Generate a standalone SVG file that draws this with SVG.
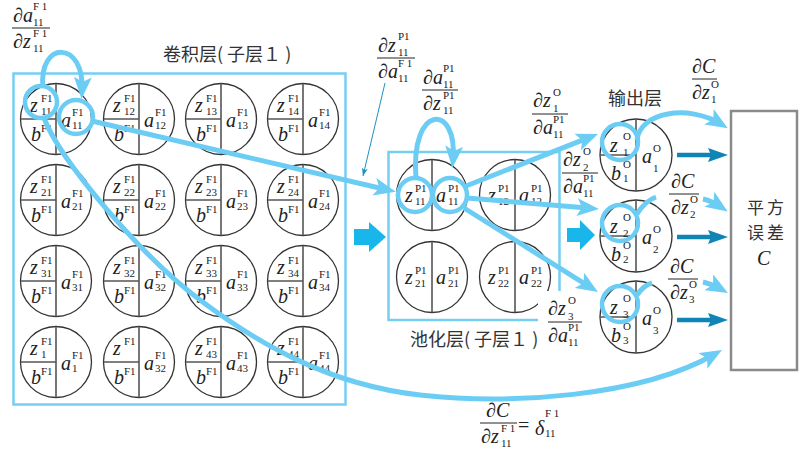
<svg xmlns="http://www.w3.org/2000/svg" width="808" height="452" viewBox="0 0 808 452">
<style>
.c{fill:#fff;stroke:#333;stroke-width:1.3}
.d{fill:none;stroke:#555;stroke-width:1.6}
.v{font-family:"Liberation Serif",serif;font-style:italic;font-size:20px;fill:#222}
.u{font-family:"Liberation Serif",serif;font-size:20px;fill:#222}
.s{font-family:"Liberation Serif",serif;font-size:11px;fill:#222}
.cn{font-family:"Noto Sans CJK SC",sans-serif;font-size:18px;fill:#333}
.hl{fill:none;stroke:#6ccdf4;stroke-width:4.5}
.k{fill:none;stroke:#6ccdf4;stroke-width:5}
.fl{stroke:#222;stroke-width:1}
.dk{fill:none;stroke:#0f85b6;stroke-width:4.5}
.blk{fill:#18b6ea}
</style>
<defs>
<g id="cc"><circle class="c" r="35.5"/><path class="d" d="M0,-35.5V35.5M-35.5,0H0"/></g>
<g id="pc"><circle class="c" r="35.5"/><path class="d" d="M0,-35.5V35.5"/></g>
<g id="oc"><circle class="c" r="36"/><path class="d" d="M0,-36V36M-36,0H0"/></g>
<marker id="ah" markerUnits="userSpaceOnUse" viewBox="0 0 22 18" markerWidth="22" markerHeight="18" refX="14" refY="9" orient="auto"><path d="M0,0 L22,9 L0,18 L5,9 Z" fill="#6ccdf4"/></marker>
<marker id="dh" markerUnits="userSpaceOnUse" viewBox="0 0 20 14" markerWidth="20" markerHeight="14" refX="12" refY="7" orient="auto"><path d="M0,0 L20,7 L0,14 L3,7 Z" fill="#0f85b6"/></marker>
<marker id="th" markerUnits="userSpaceOnUse" viewBox="0 0 8 6" markerWidth="8" markerHeight="6" refX="8" refY="3" orient="auto"><path d="M0,0 L8,3 L0,6 L2,3 Z" fill="#1e90c8"/></marker>
</defs>
<rect width="808" height="452" fill="#fff"/>

<g id="conv-layer">
<rect x="13.5" y="73.5" width="332" height="331" fill="none" stroke="#76cef2" stroke-width="2.5"/>
<text class="cn" x="163" y="61">卷积层( 子层１ )</text>
</g>
<g id="pool-layer">
<rect x="388.5" y="152" width="171" height="168" fill="none" stroke="#76cef2" stroke-width="2.5"/>
<text class="cn" x="410" y="346">池化层( 子层１ )</text>
</g>
<g id="output-title"><text class="cn" x="608" y="105">输出层</text></g>
<g id="error-box">
<rect x="731" y="111" width="66" height="259" fill="#fff" stroke="#8a8a8a" stroke-width="2.5"/>
<text class="cn" x="747" y="214" font-size="17" letter-spacing="3" style="font-size:17px">平方</text>
<text class="cn" x="747" y="239" font-size="17" letter-spacing="3" style="font-size:17px">误差</text>
<text class="v" x="757" y="265">C</text>
</g>

<g id="f11" transform="translate(56,119)"><use href="#cc"/><text class="v" x="-26" y="-7">z</text><text class="s" x="-15" y="-17">F1</text><text class="s" x="-15" y="-4">11</text><text class="v" x="-25" y="22">b</text><text class="s" x="-15" y="13">F1</text><text class="v" x="5" y="8">a</text><text class="s" x="16" y="-3">F1</text><text class="s" x="16" y="10">11</text></g>
<g id="f12" transform="translate(139,119)"><use href="#cc"/><text class="v" x="-26" y="-7">z</text><text class="s" x="-15" y="-17">F1</text><text class="s" x="-15" y="-4">12</text><text class="v" x="-25" y="22">b</text><text class="s" x="-15" y="13">F1</text><text class="v" x="5" y="8">a</text><text class="s" x="16" y="-3">F1</text><text class="s" x="16" y="10">12</text></g>
<g id="f13" transform="translate(221,119)"><use href="#cc"/><text class="v" x="-26" y="-7">z</text><text class="s" x="-15" y="-17">F1</text><text class="s" x="-15" y="-4">13</text><text class="v" x="-25" y="22">b</text><text class="s" x="-15" y="13">F1</text><text class="v" x="5" y="8">a</text><text class="s" x="16" y="-3">F1</text><text class="s" x="16" y="10">13</text></g>
<g id="f14" transform="translate(303,119)"><use href="#cc"/><text class="v" x="-26" y="-7">z</text><text class="s" x="-15" y="-17">F1</text><text class="s" x="-15" y="-4">14</text><text class="v" x="-25" y="22">b</text><text class="s" x="-15" y="13">F1</text><text class="v" x="5" y="8">a</text><text class="s" x="16" y="-3">F1</text><text class="s" x="16" y="10">14</text></g>

<g id="f21" transform="translate(56,200)"><use href="#cc"/><text class="v" x="-26" y="-7">z</text><text class="s" x="-15" y="-17">F1</text><text class="s" x="-15" y="-4">21</text><text class="v" x="-25" y="22">b</text><text class="s" x="-15" y="13">F1</text><text class="v" x="5" y="8">a</text><text class="s" x="16" y="-3">F1</text><text class="s" x="16" y="10">21</text></g>
<g id="f22" transform="translate(139,200)"><use href="#cc"/><text class="v" x="-26" y="-7">z</text><text class="s" x="-15" y="-17">F1</text><text class="s" x="-15" y="-4">22</text><text class="v" x="-25" y="22">b</text><text class="s" x="-15" y="13">F1</text><text class="v" x="5" y="8">a</text><text class="s" x="16" y="-3">F1</text><text class="s" x="16" y="10">22</text></g>
<g id="f23" transform="translate(221,200)"><use href="#cc"/><text class="v" x="-26" y="-7">z</text><text class="s" x="-15" y="-17">F1</text><text class="s" x="-15" y="-4">23</text><text class="v" x="-25" y="22">b</text><text class="s" x="-15" y="13">F1</text><text class="v" x="5" y="8">a</text><text class="s" x="16" y="-3">F1</text><text class="s" x="16" y="10">23</text></g>
<g id="f24" transform="translate(303,200)"><use href="#cc"/><text class="v" x="-26" y="-7">z</text><text class="s" x="-15" y="-17">F1</text><text class="s" x="-15" y="-4">24</text><text class="v" x="-25" y="22">b</text><text class="s" x="-15" y="13">F1</text><text class="v" x="5" y="8">a</text><text class="s" x="16" y="-3">F1</text><text class="s" x="16" y="10">24</text></g>

<g id="f31" transform="translate(56,281)"><use href="#cc"/><text class="v" x="-26" y="-7">z</text><text class="s" x="-15" y="-17">F1</text><text class="s" x="-15" y="-4">31</text><text class="v" x="-25" y="22">b</text><text class="s" x="-15" y="13">F1</text><text class="v" x="5" y="8">a</text><text class="s" x="16" y="-3">F1</text><text class="s" x="16" y="10">31</text></g>
<g id="f32" transform="translate(139,281)"><use href="#cc"/><text class="v" x="-26" y="-7">z</text><text class="s" x="-15" y="-17">F1</text><text class="s" x="-15" y="-4">32</text><text class="v" x="-25" y="22">b</text><text class="s" x="-15" y="13">F1</text><text class="v" x="5" y="8">a</text><text class="s" x="16" y="-3">F1</text><text class="s" x="16" y="10">32</text></g>
<g id="f33" transform="translate(221,281)"><use href="#cc"/><text class="v" x="-26" y="-7">z</text><text class="s" x="-15" y="-17">F1</text><text class="s" x="-15" y="-4">33</text><text class="v" x="-25" y="22">b</text><text class="s" x="-15" y="13">F1</text><text class="v" x="5" y="8">a</text><text class="s" x="16" y="-3">F1</text><text class="s" x="16" y="10">33</text></g>
<g id="f34" transform="translate(303,281)"><use href="#cc"/><text class="v" x="-26" y="-7">z</text><text class="s" x="-15" y="-17">F1</text><text class="s" x="-15" y="-4">34</text><text class="v" x="-25" y="22">b</text><text class="s" x="-15" y="13">F1</text><text class="v" x="5" y="8">a</text><text class="s" x="16" y="-3">F1</text><text class="s" x="16" y="10">34</text></g>

<g id="f41" transform="translate(56,362)"><use href="#cc"/><text class="v" x="-26" y="-7">z</text><text class="s" x="-15" y="-17">F1</text><text class="s" x="-15" y="-4">1</text><text class="v" x="-25" y="22">b</text><text class="s" x="-15" y="13">F1</text><text class="v" x="5" y="8">a</text><text class="s" x="16" y="-3">F1</text><text class="s" x="16" y="10">1</text></g>
<g id="f42" transform="translate(139,362)"><use href="#cc"/><text class="v" x="-26" y="-7">z</text><text class="s" x="-15" y="-17">F1</text><text class="v" x="-25" y="22">b</text><text class="s" x="-15" y="13">F1</text><text class="v" x="5" y="8">a</text><text class="s" x="16" y="-3">F1</text><text class="s" x="16" y="10">32</text></g>
<g id="f43" transform="translate(221,362)"><use href="#cc"/><text class="v" x="-26" y="-7">z</text><text class="s" x="-15" y="-17">F1</text><text class="s" x="-15" y="-4">43</text><text class="v" x="-25" y="22">b</text><text class="s" x="-15" y="13">F1</text><text class="v" x="5" y="8">a</text><text class="s" x="16" y="-3">F1</text><text class="s" x="16" y="10">43</text></g>
<g id="f44" transform="translate(303,362)"><use href="#cc"/><text class="v" x="-26" y="-7">z</text><text class="s" x="-15" y="-17">F1</text><text class="s" x="-15" y="-4">44</text><text class="v" x="-25" y="22">b</text><text class="s" x="-15" y="13">F1</text><text class="v" x="5" y="8">a</text><text class="s" x="16" y="-3">F1</text><text class="s" x="16" y="10">44</text></g>

<g id="p11" transform="translate(432,195)"><use href="#pc"/><text class="v" x="-27" y="7">z</text><text class="s" x="-17" y="-3">P1</text><text class="s" x="-17" y="10">11</text><text class="v" x="4" y="7">a</text><text class="s" x="16" y="-3">P1</text><text class="s" x="16" y="10">11</text></g>
<g id="p12" transform="translate(515,195)"><use href="#pc"/><text class="v" x="-27" y="7">z</text><text class="s" x="-17" y="-3">P1</text><text class="s" x="-17" y="10">12</text><text class="v" x="4" y="7">a</text><text class="s" x="16" y="-3">P1</text><text class="s" x="16" y="10">12</text></g>
<g id="p21" transform="translate(432,277)"><use href="#pc"/><text class="v" x="-27" y="7">z</text><text class="s" x="-17" y="-3">P1</text><text class="s" x="-17" y="10">21</text><text class="v" x="4" y="7">a</text><text class="s" x="16" y="-3">P1</text><text class="s" x="16" y="10">21</text></g>
<g id="p22" transform="translate(515,277)"><use href="#pc"/><text class="v" x="-27" y="7">z</text><text class="s" x="-17" y="-3">P1</text><text class="s" x="-17" y="10">22</text><text class="v" x="4" y="7">a</text><text class="s" x="16" y="-3">P1</text><text class="s" x="16" y="10">22</text></g>

<g id="o1" transform="translate(636,155)"><use href="#oc"/><text class="v" x="-26" y="-3">z</text><text class="s" x="-13" y="-15">O</text><text class="s" x="-13" y="1">1</text><text class="v" x="-25" y="25">b</text><text class="s" x="-13" y="13">O</text><text class="s" x="-13" y="27">1</text><text class="v" x="6" y="8">a</text><text class="s" x="17" y="-3">O</text><text class="s" x="17" y="17">1</text></g>
<g id="o2" transform="translate(636,236)"><use href="#oc"/><text class="v" x="-26" y="-3">z</text><text class="s" x="-13" y="-15">O</text><text class="s" x="-13" y="1">2</text><text class="v" x="-25" y="25">b</text><text class="s" x="-13" y="13">O</text><text class="s" x="-13" y="27">2</text><text class="v" x="6" y="8">a</text><text class="s" x="17" y="-3">O</text><text class="s" x="17" y="17">2</text></g>
<g id="o3" transform="translate(636,317)"><use href="#oc"/><text class="v" x="-26" y="-3">z</text><text class="s" x="-13" y="-15">O</text><text class="s" x="-13" y="1">3</text><text class="v" x="-25" y="25">b</text><text class="s" x="-13" y="13">O</text><text class="s" x="-13" y="27">3</text><text class="v" x="6" y="8">a</text><text class="s" x="17" y="-3">O</text><text class="s" x="17" y="17">3</text></g>

<g id="labels">
<g transform="translate(12,28)"><path class="fl" d="M0,0H38"/><text class="v" x="1" y="-6">∂a</text><text class="s" x="21" y="-18">F 1</text><text class="s" x="21" y="-2">11</text><text class="v" x="1" y="20">∂z</text><text class="s" x="21" y="9">F 1</text><text class="s" x="21" y="24">11</text></g>
<g transform="translate(377,58)"><path class="fl" d="M0,0H38"/><text class="v" x="1" y="-6">∂z</text><text class="s" x="21" y="-18">P1</text><text class="s" x="21" y="-2">11</text><text class="v" x="1" y="20">∂a</text><text class="s" x="21" y="9">F 1</text><text class="s" x="21" y="24">11</text></g>
<g transform="translate(422,90)"><path class="fl" d="M0,0H36"/><text class="v" x="1" y="-6">∂a</text><text class="s" x="21" y="-18">P1</text><text class="s" x="21" y="-2">11</text><text class="v" x="1" y="20">∂z</text><text class="s" x="21" y="9">P1</text><text class="s" x="21" y="24">11</text></g>
<g transform="translate(532,114)"><path class="fl" d="M0,0H36"/><text class="v" x="1" y="-7">∂z</text><text class="s" x="21" y="-18">O</text><text class="s" x="21" y="-2">1</text><text class="v" x="1" y="20">∂a</text><text class="s" x="21" y="9">P1</text><text class="s" x="21" y="24">11</text></g>
<g transform="translate(562,173)"><path class="fl" d="M0,0H36"/><text class="v" x="1" y="-7">∂z</text><text class="s" x="21" y="-18">O</text><text class="s" x="21" y="-2">2</text><text class="v" x="1" y="20">∂a</text><text class="s" x="21" y="9">P1</text><text class="s" x="21" y="24">11</text></g>
<g transform="translate(692,79)"><path class="fl" d="M0,0H25"/><text class="v" x="0" y="-6">∂C</text><text class="v" x="0" y="20">∂z</text><text class="s" x="19" y="9">O</text><text class="s" x="19" y="24">1</text></g>
<g transform="translate(669,194)"><path class="fl" d="M0,0H30"/><text class="v" x="2" y="-6">∂C</text><text class="v" x="2" y="20">∂z</text><text class="s" x="21" y="9">O</text><text class="s" x="21" y="24">2</text></g>
<g transform="translate(668,279)"><path class="fl" d="M0,0H30"/><text class="v" x="2" y="-6">∂C</text><text class="v" x="2" y="20">∂z</text><text class="s" x="21" y="9">O</text><text class="s" x="21" y="24">3</text></g>
<g transform="translate(548,322)"><rect x="-10" y="-31" width="27" height="36" fill="#fff"/><path class="fl" d="M0,0H34"/><text class="v" x="0" y="-7">∂z</text><text class="s" x="20" y="-18">O</text><text class="s" x="20" y="-2">3</text><text class="v" x="0" y="20">∂a</text><text class="s" x="20" y="9">P1</text><text class="s" x="20" y="24">11</text></g>
<g transform="translate(480,423)"><path class="fl" d="M0,0H37"/><text class="v" x="6" y="-6">∂C</text><text class="v" x="1" y="20">∂z</text><text class="s" x="21" y="9">F 1</text><text class="s" x="21" y="24">11</text><text class="u" x="38" y="9">=</text><text class="v" x="55" y="12">δ</text><text class="s" x="65" y="-6">F 1</text><text class="s" x="65" y="14">11</text></g>
</g>

<g id="connectors">
<polygon class="blk" points="354,229 369,229 369,222 386,237 369,252 369,245 354,245"/>
<polygon class="blk" points="567,228 580,228 580,220 595,235 580,250 580,242 567,242"/>
<circle class="hl" cx="41" cy="102" r="16"/>
<circle class="hl" cx="76" cy="117" r="17"/>
<path class="k" d="M43,88 C38,40 85,40 82,91" marker-end="url(#ah)"/>
<path class="k" d="M92,121 L388,190" marker-end="url(#ah)"/>
<path class="k" d="M44,118 C60,160 140,255 200,300 S330,385 420,395 S640,397 715,354" marker-end="url(#ah)"/>
<circle class="hl" cx="415" cy="195" r="17"/>
<circle class="hl" cx="450" cy="195" r="17"/>
<path class="k" d="M416,178 C410,103 458,103 453,160" marker-end="url(#ah)"/>
<path class="k" d="M466,186 L590.6,136.9" marker-end="url(#ah)"/>
<path class="k" d="M467,198 L591,208.3" marker-end="url(#ah)"/>
<path class="k" d="M464,208 L591.2,287.8" marker-end="url(#ah)"/>
<path d="M385,83 L363,176" fill="none" stroke="#1e90c8" stroke-width="1" marker-end="url(#th)"/>
<circle class="hl" cx="620" cy="142" r="18"/>
<circle class="hl" cx="620" cy="223" r="18"/>
<circle class="hl" cx="620" cy="304" r="18"/>
<path class="k" d="M637,140 C640,112 688,104 721,124" marker-end="url(#ah)"/>
<path class="k" d="M637,214 Q645,201 656,197"/>
<path class="k" d="M703,199 Q712,201 721,207" marker-end="url(#ah)"/>
<path class="k" d="M637,295 Q644,285 652,283"/>
<path class="k" d="M703,282 Q712,284 721,289" marker-end="url(#ah)"/>
<path class="dk" d="M677,155 H720" marker-end="url(#dh)"/>
<path class="dk" d="M677,237 H720" marker-end="url(#dh)"/>
<path class="dk" d="M677,320 H720" marker-end="url(#dh)"/>
</g>
</svg>
